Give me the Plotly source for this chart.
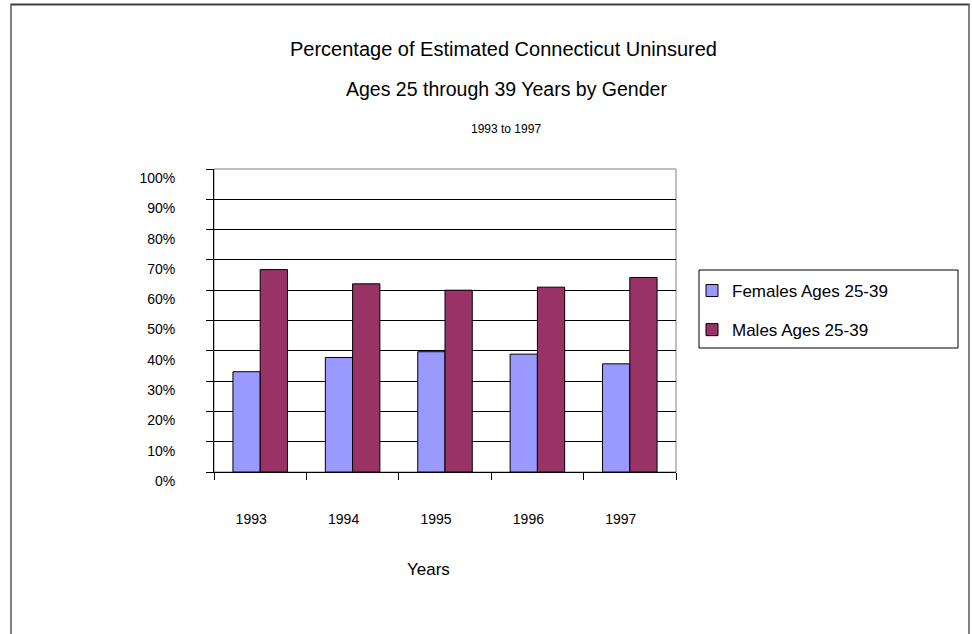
import plotly.graph_objects as go

years = ["1993", "1994", "1995", "1996", "1997"]
females = [33.1, 37.8, 39.7, 38.9, 35.7]
males = [66.8, 62.1, 60.0, 61.0, 64.2]
series_names = ["Females Ages 25-39", "Males Ages 25-39"]
y_ticks = [0, 10, 20, 30, 40, 50, 60, 70, 80, 90, 100]
y_tick_labels = ["0%", "10%", "20%", "30%", "40%", "50%", "60%", "70%", "80%", "90%", "100%"]
title_lines = ["Percentage of Estimated Connecticut Uninsured",
               "Ages 25 through 39 Years by Gender",
               "1993 to 1997"]
x_title = "Years"

FONT = "Liberation Sans, Arial, sans-serif"
W, H = 972, 634
L, R, T, B = 214, 676, 169, 472  # plot area in px


def px(xp):
    return (xp - L) / (R - L)


def py(yp):
    return (B - yp) / (B - T)


fig = go.Figure()
fig.add_trace(go.Bar(x=years, y=females, name=series_names[0], legendgroup="f",
                     marker=dict(color="#9999FF", line=dict(color="#000000", width=1))))
fig.add_trace(go.Bar(x=years, y=males, name=series_names[1], legendgroup="m",
                     marker=dict(color="#993366", line=dict(color="#000000", width=1))))

shapes = [
    # plot area frame (gray)
    dict(type="rect", xref="paper", yref="paper", x0=0, x1=1, y0=0, y1=1,
         line=dict(color="#808080", width=1), layer="below"),
    # outer chart border
    dict(type="rect", xref="paper", yref="paper", x0=px(11), x1=px(969), y0=py(660), y1=py(4.5),
         line=dict(color="#808080", width=2), layer="below"),
    dict(type="line", xref="paper", yref="paper", x0=px(11), x1=px(969), y0=py(4.5), y1=py(4.5),
         line=dict(color="#404040", width=1.5), layer="below"),
    # legend frame
    dict(type="rect", xref="paper", yref="paper", x0=px(699), x1=px(958), y0=py(348), y1=py(270),
         line=dict(color="#000000", width=1), fillcolor="white", layer="below"),
]

annotations = [
    dict(text=title_lines[0], x=px(503), y=py(49), xref="paper", yref="paper",
         showarrow=False, xanchor="center", yanchor="middle", font=dict(size=20, color="#000000")),
    dict(text=title_lines[1], x=px(506), y=py(89), xref="paper", yref="paper",
         showarrow=False, xanchor="center", yanchor="middle", font=dict(size=19.5, color="#000000")),
    dict(text=title_lines[2], x=px(506), y=py(129), xref="paper", yref="paper",
         showarrow=False, xanchor="center", yanchor="middle", font=dict(size=12, color="#000000")),
    dict(text=x_title, x=px(428), y=py(569), xref="paper", yref="paper",
         showarrow=False, xanchor="center", yanchor="middle", font=dict(size=17, color="#000000")),
]

fig.update_layout(
    width=W, height=H,
    margin=dict(l=L, r=W - R, t=T, b=H - B, pad=0),
    paper_bgcolor="white", plot_bgcolor="white",
    font=dict(family=FONT, color="#000000"),
    barmode="group", bargap=0.41, bargroupgap=0,
    showlegend=True,
    legend=dict(x=px(692), y=py(273), xanchor="left", yanchor="top",
                borderwidth=0, bgcolor="rgba(0,0,0,0)",
                font=dict(size=17), traceorder="grouped", tracegroupgap=14,
                itemwidth=30),
    shapes=shapes,
    annotations=annotations,
    hovermode=False,
)

fig.update_xaxes(type="category", showgrid=False, showline=True, linecolor="#000000", linewidth=1,
                 ticks="outside", ticklen=7, tickcolor="#000000", tickson="boundaries",
                 tickfont=dict(size=14), ticklabelstandoff=34, ticklabelshift=-9,
                 fixedrange=True)
fig.update_yaxes(range=[0, 100], tickvals=y_ticks, ticktext=y_tick_labels, showgrid=True,
                 gridcolor="#000000", gridwidth=1, showline=True, linecolor="#000000", linewidth=1,
                 ticks="outside", ticklen=7, tickcolor="#000000",
                 tickfont=dict(size=14), ticklabelstandoff=28, ticklabelshift=9,
                 zeroline=False, fixedrange=True)

fig.write_html("out.html")
